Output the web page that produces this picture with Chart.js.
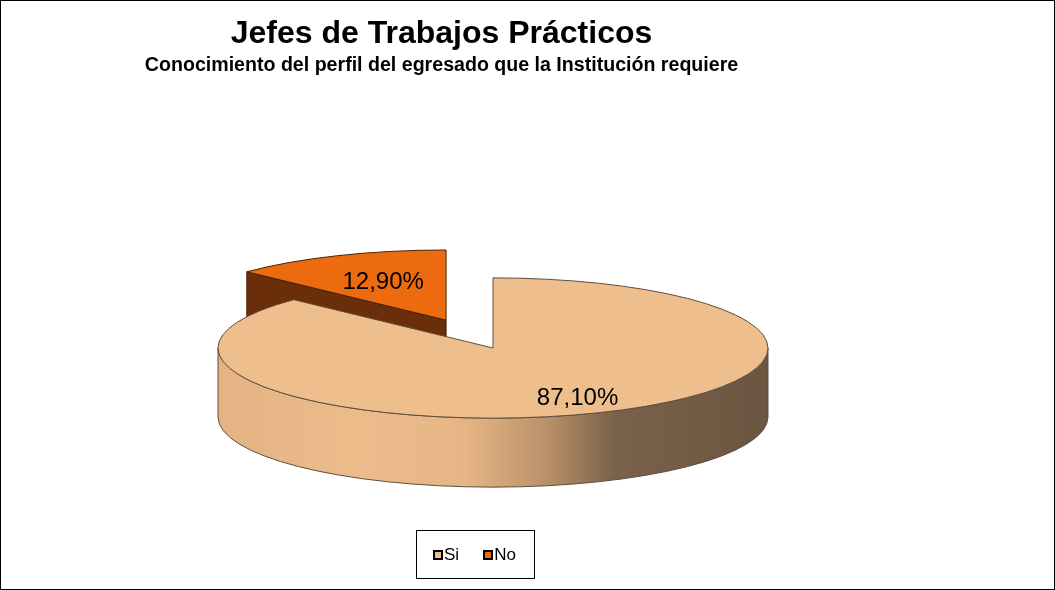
<!DOCTYPE html>
<html>
<head>
<meta charset="utf-8">
<script src="https://cdn.jsdelivr.net/npm/chart.js@4.4.1/dist/chart.umd.min.js"></script>
<style>
    body { margin: 0; background: #fff; font-family: 'Liberation Sans', Arial, sans-serif; }
    #frame { position: relative; width: 1055px; height: 590px; box-sizing: border-box; border: 1px solid #000; }
    #chart-box { position: absolute; left: 0; top: 0; width: 1053px; height: 588px; }
    #legend { position: absolute; left: 415px; top: 529px; width: 119px; height: 49px; box-sizing: border-box;
              border: 1px solid #000; display: flex; align-items: center; padding-left: 16px; font-size: 17px; color: #000; }
    .item { display: flex; align-items: center; margin-right: 24px; }
    .mark { width: 6px; height: 6px; border: 2px solid #000; margin-right: 1px; }
</style>
</head>
<body>
<div id="frame">
    <div id="chart-box"><canvas id="pie-chart"></canvas></div>
    <div id="legend"></div>
</div>
<script>
// Datos del grafico
const categories = ['Si', 'No'];
const values = [87.1, 12.9];
const topColors = ['#EFBE8D', '#EC6B0E'];
const title = 'Jefes de Trabajos Prácticos';
const subtitle = 'Conocimiento del perfil del egresado que la Institución requiere';

const fontFamily = "'Liberation Sans', Arial, sans-serif";

// Pie 3D: dibuja cada arco a partir de la geometria calculada por Chart.js
const pie3d = {
    id: 'pie3d',
    beforeDatasetsDraw(chart, args, opts) {
        const ctx = chart.ctx;
        const meta = chart.getDatasetMeta(0);
        const { cx, cy, tilt, depth } = opts;

        const idx = meta.data.map((el, i) => i);
        const midOf = i => (meta.data[i].startAngle + meta.data[i].endAngle) / 2;
        idx.sort((i, j) => Math.sin(midOf(i)) - Math.sin(midOf(j)));

        ctx.save();
        ctx.lineWidth = 1;
        ctx.lineJoin = 'round';
        idx.forEach(i => {
            const el = meta.data[i];
            const { startAngle, endAngle, outerRadius } = el.getProps(['startAngle', 'endAngle', 'outerRadius'], true);
            const m = (startAngle + endAngle) / 2;
            const off = el.options.offset || 0;
            const x0 = cx + Math.cos(m) * off;
            const y0 = cy + Math.sin(m) * off * tilt;
            const a = outerRadius, b = outerRadius * tilt;
            ctx.strokeStyle = opts.edgeColors[i];

            // caras radiales visibles
            [[startAngle, -1], [endAngle, 1]].forEach(([t, s]) => {
                if (Math.sin(t + s * Math.PI / 2) <= 0.01) return;
                const ex = x0 + Math.cos(t) * a, ey = y0 + Math.sin(t) * b;
                ctx.beginPath();
                ctx.moveTo(x0, y0);
                ctx.lineTo(ex, ey);
                ctx.lineTo(ex, ey + depth);
                ctx.lineTo(x0, y0 + depth);
                ctx.closePath();
                ctx.fillStyle = opts.faceColors[i];
                ctx.fill();
                ctx.stroke();
            });

            // pared exterior (solo la mitad delantera)
            for (let k = -1; k <= 1; k++) {
                const lo = Math.max(startAngle, 2 * Math.PI * k);
                const hi = Math.min(endAngle, 2 * Math.PI * k + Math.PI);
                if (hi <= lo) continue;
                const grad = ctx.createLinearGradient(x0 - a, 0, x0 + a, 0);
                opts.wallStops[i].forEach(st => grad.addColorStop(st[0], st[1]));
                ctx.beginPath();
                ctx.ellipse(x0, y0, a, b, 0, lo, hi);
                ctx.lineTo(x0 + Math.cos(hi) * a, y0 + Math.sin(hi) * b + depth);
                ctx.ellipse(x0, y0 + depth, a, b, 0, hi, lo, true);
                ctx.closePath();
                ctx.fillStyle = grad;
                ctx.fill();
                ctx.stroke();
            }

            // cara superior
            ctx.beginPath();
            ctx.moveTo(x0, y0);
            ctx.ellipse(x0, y0, a, b, 0, startAngle, endAngle);
            ctx.closePath();
            ctx.fillStyle = el.options.backgroundColor;
            ctx.fill();
            ctx.stroke();
        });
        ctx.restore();
        return false;
    },
    afterDraw(chart, args, opts) {
        const ctx = chart.ctx;
        const meta = chart.getDatasetMeta(0);
        const { cx, cy, tilt } = opts;
        ctx.save();
        ctx.font = '24px ' + fontFamily;
        ctx.fillStyle = '#000';
        ctx.textAlign = 'center';
        ctx.textBaseline = 'middle';
        meta.data.forEach((el, i) => {
            const m = (el.startAngle + el.endAngle) / 2;
            const off = el.options.offset || 0;
            const r = off + el.outerRadius * opts.labelPos[i];
            const x = cx + Math.cos(m) * r;
            const y = cy + Math.sin(m) * r * tilt;
            const txt = values[i].toFixed(2).replace('.', ',') + '%';
            ctx.fillText(txt, x, y);
        });
        ctx.restore();
    }
};

const ctx = document.getElementById('pie-chart').getContext('2d');
new Chart(ctx, {
    type: 'pie',
    data: {
        labels: categories,
        datasets: [{
            data: values,
            backgroundColor: topColors,
            borderWidth: 0,
            offset: [0, 119],
            radius: 275
        }]
    },
    options: {
        responsive: true,
        maintainAspectRatio: false,
        animation: false,
        layout: { padding: { right: 172 } },
        plugins: {
            legend: { display: false },
            tooltip: { enabled: false },
            title: {
                display: true,
                text: title,
                color: '#000',
                font: { family: fontFamily, size: 32, weight: 'bold' },
                padding: { top: 14, bottom: 0 }
            },
            subtitle: {
                display: true,
                text: subtitle,
                color: '#000',
                font: { family: fontFamily, size: 19.6, weight: 'bold' },
                padding: { top: 0, bottom: 0 }
            },
            pie3d: {
                cx: 492, cy: 347, tilt: 0.255, depth: 69,
                edgeColors: ['#5e4e3e', '#4a2208'],
                faceColors: ['#b08a64', '#6A2E0A'],
                wallStops: [
                    [[0, '#E4B283'], [0.25, '#EDBC8B'], [0.45, '#E6B585'], [0.6, '#B89068'], [0.72, '#7A624A'], [1, '#6A5641']],
                    [[0, '#6A2E0A'], [1, '#6A2E0A']]
                ],
                labelPos: [0.78, 0.58]
            }
        }
    },
    plugins: [pie3d]
});

// Leyenda
const legend = document.getElementById('legend');
categories.forEach((c, i) => {
    const item = document.createElement('div');
    item.className = 'item';
    item.innerHTML = `<span class="mark" style="background:${topColors[i]}"></span><span>${c}</span>`;
    legend.appendChild(item);
});
</script>
</body>
</html>
